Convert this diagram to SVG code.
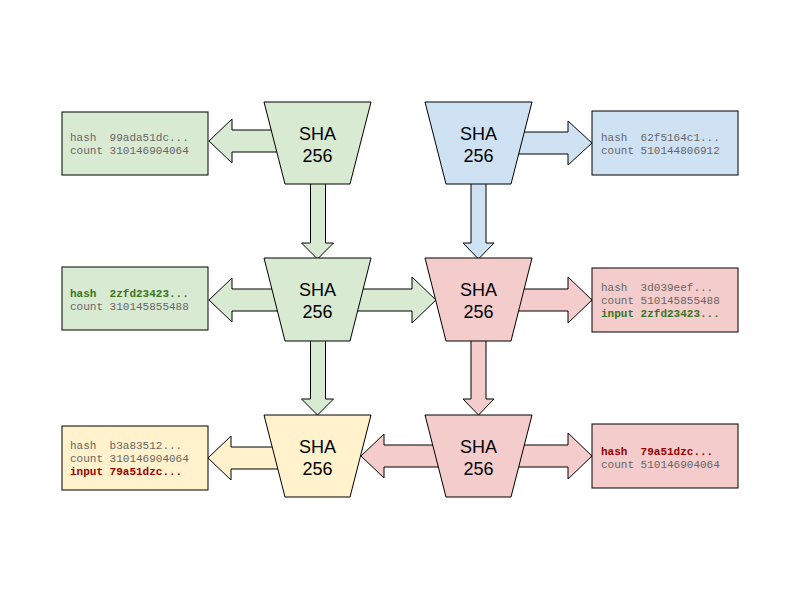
<svg xmlns="http://www.w3.org/2000/svg" width="800" height="600" viewBox="0 0 800 600">
<style>
.g{fill:#d9ead3}.b{fill:#cfe2f3}.r{fill:#f4cccc}.y{fill:#fff2cc}
.s{stroke:#000;stroke-width:1}
.sha{font-family:"Liberation Sans",Arial,sans-serif;font-size:18px;fill:#000;text-anchor:middle}
.m{font-family:"Liberation Mono","Courier New",monospace;font-size:11px;fill:#666;white-space:pre}
.bg{font-weight:bold;fill:#38761d}.br{font-weight:bold;fill:#990000}
</style>
<rect width="800" height="600" fill="#fff"/>
<g id="connectors" class="s">
<polygon class="g" points="290,130 232,130 232,119 209,141 232,163 232,152 290,152"/>
<polygon class="b" points="505,132 568,132 568,121 592,143 568,165 568,154 505,154"/>
<polygon class="g" points="310.5,175 325.5,175 325.5,243 333.5,243 317.5,259 301.5,243 309.5,243 310.5,243"/>
<polygon class="b" points="471,175 486,175 486,243 494,243 478.5,259 463,243 471,243"/>
<polygon class="g" points="290,289 232,289 232,278 209,300 232,322 232,311 290,311"/>
<polygon class="g" points="350,289 412,289 412,277 436,300 412,323 412,311 350,311"/>
<polygon class="r" points="505,289 568,289 568,277 592,300 568,323 568,311 505,311"/>
<polygon class="g" points="310.5,330 325.5,330 325.5,399 333.5,399 317.5,415 301.5,399 310.5,399"/>
<polygon class="r" points="471,330 486,330 486,399 494,399 478.5,415 463,399 471,399"/>
<polygon class="y" points="290,447 231,447 231,436 208,458 231,480 231,469 290,469"/>
<polygon class="r" points="460,445 384,445 384,434 361,456 384,478 384,467 460,467"/>
<polygon class="r" points="505,445 568,445 568,433 592,456 568,479 568,467 505,467"/>
</g>
<g id="box1"><rect class="g s" x="62" y="112" width="146" height="63"/>
<text class="m" x="70" y="141">hash  99ada51dc...</text><text class="m" x="70" y="154">count 310146904064</text></g>
<g id="box2"><rect class="b s" x="592" y="111" width="146" height="64"/>
<text class="m" x="601" y="141">hash  62f5164c1...</text><text class="m" x="601" y="154">count 510144806912</text></g>
<g id="box3"><rect class="g s" x="62" y="267" width="146" height="63"/>
<text class="m bg" x="70" y="297">hash  2zfd23423...</text><text class="m" x="70" y="310">count 310145855488</text></g>
<g id="box4"><rect class="r s" x="592" y="268" width="146" height="64"/>
<text class="m" x="601" y="291">hash  3d039eef...</text><text class="m" x="601" y="304">count 510145855488</text><text class="m bg" x="601" y="317">input 2zfd23423...</text></g>
<g id="box5"><rect class="y s" x="62" y="426" width="146" height="64"/>
<text class="m" x="70" y="449">hash  b3a83512...</text><text class="m" x="70" y="462">count 310146904064</text><text class="m br" x="70" y="475">input 79a51dzc...</text></g>
<g id="box6"><rect class="r s" x="592" y="424" width="146" height="64"/>
<text class="m br" x="601" y="455">hash  79a51dzc...</text><text class="m" x="601" y="468">count 510146904064</text></g>
<g id="sha1"><polygon class="g s" points="264,102 371,102 350,184 285,184"/>
<text class="sha" x="317.5" y="140">SHA</text><text class="sha" x="317.5" y="162">256</text></g>
<g id="sha2"><polygon class="b s" points="425,102 532,102 511,184 446,184"/>
<text class="sha" x="478.5" y="140">SHA</text><text class="sha" x="478.5" y="162">256</text></g>
<g id="sha3"><polygon class="g s" points="264,258 371,258 350,341 285,341"/>
<text class="sha" x="317.5" y="296">SHA</text><text class="sha" x="317.5" y="318">256</text></g>
<g id="sha4"><polygon class="r s" points="425,258 532,258 511,341 446,341"/>
<text class="sha" x="478.5" y="296">SHA</text><text class="sha" x="478.5" y="318">256</text></g>
<g id="sha5"><polygon class="y s" points="264,415 371,415 350,497 285,497"/>
<text class="sha" x="317.5" y="453">SHA</text><text class="sha" x="317.5" y="475">256</text></g>
<g id="sha6"><polygon class="r s" points="425,415 532,415 511,497 446,497"/>
<text class="sha" x="478.5" y="453">SHA</text><text class="sha" x="478.5" y="475">256</text></g>
</svg>
